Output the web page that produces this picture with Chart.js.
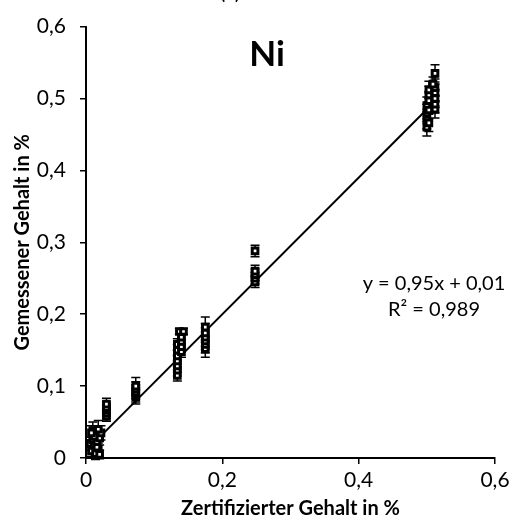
<!DOCTYPE html>
<html>
<head>
<meta charset="utf-8">
<script src="https://cdn.jsdelivr.net/npm/chart.js@4/dist/chart.umd.min.js"></script>
<style>
    html, body { margin: 0; padding: 0; background: white; }
    #wrap { width: 517px; height: 525px; }
</style>
</head>
<body>
<div id="wrap"><canvas id="niChart" width="517" height="525"></canvas></div>
<script>
// certified content (x), measured content (y), error bar half width
const certX = [
    0.006, 0.008, 0.010, 0.012, 0.014, 0.016, 0.018, 0.020, 0.022, 0.010, 0.014, 0.018, 0.012, 0.016, 0.008, 0.020,
    0.030, 0.030, 0.030, 0.030, 0.030,
    0.073, 0.073, 0.073, 0.073, 0.073,
    0.134, 0.134, 0.134, 0.134, 0.134, 0.134, 0.134,
    0.140, 0.140, 0.140, 0.140, 0.137, 0.143,
    0.175, 0.175, 0.175, 0.175, 0.175, 0.175,
    0.248, 0.248, 0.248, 0.248, 0.248,
    0.500, 0.500, 0.500, 0.500, 0.503, 0.503, 0.503, 0.503, 0.503,
    0.512, 0.512, 0.512, 0.512, 0.512, 0.512, 0.509
];
const measY = [
    0.020, 0.010, 0.025, 0.018, 0.032, 0.022, 0.012, 0.028, 0.035, 0.038, 0.006, 0.040, 0.030, 0.015, 0.035, 0.005,
    0.058, 0.062, 0.066, 0.070, 0.075,
    0.085, 0.088, 0.092, 0.096, 0.100,
    0.115, 0.122, 0.128, 0.135, 0.142, 0.150, 0.158,
    0.148, 0.155, 0.162, 0.168, 0.176, 0.176,
    0.152, 0.158, 0.163, 0.168, 0.174, 0.182,
    0.245, 0.250, 0.255, 0.260, 0.288,
    0.460, 0.470, 0.480, 0.490, 0.466, 0.484, 0.497, 0.505, 0.512,
    0.485, 0.492, 0.500, 0.508, 0.515, 0.535, 0.520
];
const measErr = [
    0.009, 0.008, 0.010, 0.009, 0.010, 0.008, 0.009, 0.010, 0.010, 0.012, 0.008, 0.012, 0.010, 0.009, 0.010, 0.006,
    0.007, 0.007, 0.008, 0.008, 0.008,
    0.010, 0.010, 0.010, 0.010, 0.012,
    0.008, 0.008, 0.008, 0.008, 0.008, 0.008, 0.008,
    0.008, 0.008, 0.008, 0.008, 0.004, 0.004,
    0.012, 0.012, 0.012, 0.013, 0.013, 0.014,
    0.008, 0.008, 0.008, 0.008, 0.008,
    0.012, 0.012, 0.012, 0.012, 0.012, 0.012, 0.012, 0.012, 0.012,
    0.012, 0.012, 0.012, 0.012, 0.012, 0.012, 0.010
];

const slope = 0.95;
const intercept = 0.01;
const trendX = [0.008, 0.51];

const xTickVals = [0, 0.2, 0.4, 0.6];
const yTickVals = [0, 0.1, 0.2, 0.3, 0.4, 0.5, 0.6];
const xTitle = "Zertifizierter Gehalt in %";
const yTitle = "Gemessener Gehalt in %";
const elementName = "Ni";
const eqLines = ["y = 0,95x + 0,01", "R\u00b2 = 0,989"];

const FONT = "Lato, 'Open Sans', sans-serif";

function fmt(v) {
    if (v === 0) return "0";
    return v.toFixed(1).replace(".", ",");
}

const errorBars = {
    id: "errorBars",
    beforeDatasetsDraw(chart) {
        const ctx = chart.ctx;
        const xs = chart.scales.x;
        const ys = chart.scales.y;
        ctx.save();
        ctx.strokeStyle = "black";
        ctx.lineWidth = 1.5;
        for (let i = 0; i < certX.length; i++) {
            const px = xs.getPixelForValue(certX[i]);
            const top = ys.getPixelForValue(measY[i] + measErr[i]);
            const bot = ys.getPixelForValue(measY[i] - measErr[i]);
            ctx.beginPath();
            ctx.moveTo(px, top); ctx.lineTo(px, bot);
            ctx.moveTo(px - 4.5, top); ctx.lineTo(px + 4.5, top);
            ctx.moveTo(px - 4.5, bot); ctx.lineTo(px + 4.5, bot);
            ctx.stroke();
        }
        ctx.restore();
    }
};

const labels = {
    id: "labels",
    afterDraw(chart) {
        const ctx = chart.ctx;
        ctx.save();
        ctx.fillStyle = "black";
        ctx.textAlign = "center";
        ctx.textBaseline = "middle";
        // panel letter, cut at the top edge
        ctx.font = "22px " + FONT;
        ctx.fillText("(c)", 230, -8);
        ctx.font = "bold 35px " + FONT;
        ctx.fillText(elementName, 267, 55);
        ctx.font = "20px " + FONT;
        ctx.fillText(eqLines[0], 434, 284);
        ctx.fillText(eqLines[1], 434, 310);
        ctx.restore();
    }
};

const ctx = document.getElementById("niChart").getContext("2d");

new Chart(ctx, {
    type: "scatter",
    data: {
        datasets: [
            {
                label: "Ni",
                data: certX.map((x, i) => ({ x: x, y: measY[i] })),
                pointStyle: "rect",
                pointRadius: 4,
                backgroundColor: "white",
                borderColor: "black",
                borderWidth: 3
            },
            {
                label: "Trend",
                type: "line",
                data: trendX.map(x => ({ x: x, y: slope * x + intercept })),
                borderColor: "black",
                borderWidth: 2,
                pointRadius: 0,
                fill: false
            }
        ]
    },
    options: {
        responsive: false,
        animation: false,
        layout: { padding: { top: 23, right: 22, left: 7, bottom: 0 } },
        plugins: {
            legend: { display: false },
            tooltip: { enabled: false }
        },
        scales: {
            x: {
                type: "linear",
                min: 0,
                max: 0.6,
                afterBuildTicks: axis => { axis.ticks = xTickVals.map(v => ({ value: v })); },
                afterFit: axis => { axis.height = 67; },
                ticks: {
                    color: "black",
                    font: { family: FONT, size: 21 },
                    padding: 4,
                    maxRotation: 0,
                    callback: v => fmt(v)
                },
                grid: { drawOnChartArea: false, drawTicks: true, tickLength: 6, color: "black", lineWidth: 1.5 },
                border: { color: "black", width: 2 },
                title: {
                    display: true,
                    text: xTitle,
                    color: "black",
                    font: { family: FONT, size: 20, weight: "bold" },
                    padding: { top: 0 }
                }
            },
            y: {
                type: "linear",
                min: 0,
                max: 0.6,
                afterBuildTicks: axis => { axis.ticks = yTickVals.map(v => ({ value: v })); },
                afterFit: axis => { axis.width = 79; },
                ticks: {
                    color: "black",
                    font: { family: FONT, size: 21 },
                    padding: 14,
                    callback: v => fmt(v)
                },
                grid: { drawOnChartArea: false, drawTicks: true, tickLength: 6, color: "black", lineWidth: 1.5 },
                border: { color: "black", width: 2 },
                title: {
                    display: true,
                    text: yTitle,
                    color: "black",
                    font: { family: FONT, size: 20, weight: "bold" },
                    padding: { bottom: 0 }
                }
            }
        }
    },
    plugins: [errorBars, labels]
});
</script>
</body>
</html>
